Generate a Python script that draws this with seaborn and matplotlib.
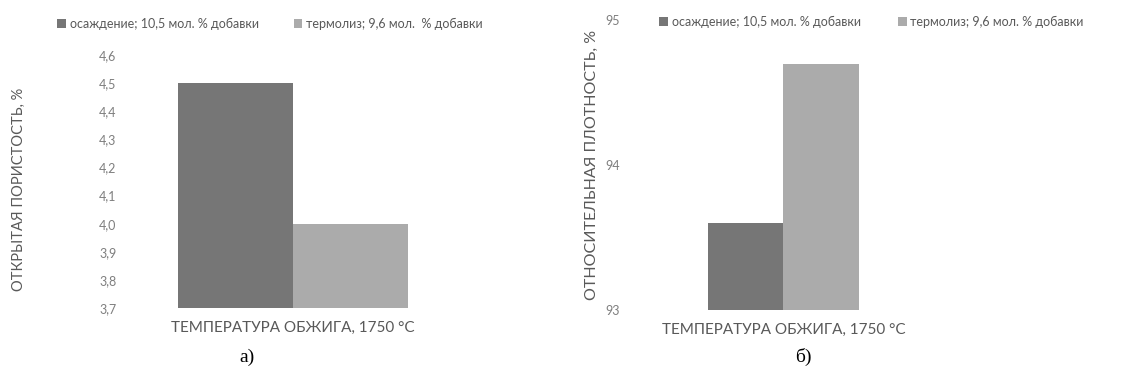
import matplotlib
matplotlib.use("Agg")
import matplotlib.pyplot as plt
import seaborn as sns
import pandas as pd
from matplotlib.ticker import FuncFormatter, MultipleLocator

# data
category = ["ТЕМПЕРАТУРА ОБЖИГА, 1750 °С"]
methods = ["осаждение; 10,5 мол. % добавки", "термолиз; 9,6 мол.  % добавки"]
methods_b = ["осаждение; 10,5 мол. % добавки", "термолиз; 9,6 мол. % добавки"]
porosity = [4.5, 4.0]          # открытая пористость, %
density = [93.6, 94.7]         # относительная плотность, %

colors = ["#767676", "#ababab"]
text_dark = "#595959"
text_tick = "#7f7f7f"

sns.set_theme(style="white")
plt.rcParams["font.family"] = ["Lato", "DejaVu Sans"]

W, H = 1128, 376
fig = plt.figure(figsize=(W / 100, H / 100), dpi=100)
fig.patch.set_facecolor("white")


def px_axes(x0, x1, ytop, ybot):
    return fig.add_axes([x0 / W, 1 - ybot / H, (x1 - x0) / W, (ybot - ytop) / H])


def draw(ax, values, names, ylim, step, fmt, ylabel, ylabel_size, legend_pos, colspace):
    df = pd.DataFrame({"cat": category * len(values), "method": names, "value": values})
    sns.barplot(data=df, x="cat", y="value", hue="method", palette=colors,
                width=0.8, saturation=1, ax=ax, legend=True, linewidth=0)
    ax.set_ylim(*ylim)
    ax.yaxis.set_major_locator(MultipleLocator(step))
    ax.yaxis.set_major_formatter(FuncFormatter(fmt))
    for s in ax.spines.values():
        s.set_visible(False)
    ax.tick_params(axis="y", length=0, pad=6, labelsize=9, labelcolor=text_tick)
    ax.tick_params(axis="x", length=0, pad=9, labelsize=11, labelcolor=text_dark)
    ax.set_xlabel("")
    ax.set_ylabel(ylabel, fontsize=ylabel_size, color=text_dark)
    handles, labels = ax.get_legend_handles_labels()
    ax.get_legend().remove()
    fig.legend(handles, labels, loc="upper left",
               bbox_to_anchor=(legend_pos[0] / W, 1 - legend_pos[1] / H),
               ncol=2, frameon=False, fontsize=9, handlelength=0.7,
               handleheight=0.7, handletextpad=0.3, columnspacing=colspace,
               labelcolor=text_dark, borderaxespad=0)
    ax.set_facecolor("white")


ax1 = px_axes(125, 461, 55, 308)
draw(ax1, porosity, methods, (3.7, 4.6), 0.1,
     lambda v, p: f"{v:.1f}".replace(".", ","),
     "ОТКРЫТАЯ ПОРИСТОСТЬ, %", 10.5, (52, 13), 2.8)
ax1.set_xlim(-0.584, 0.584)
ax1.yaxis.set_label_coords(-0.295, 0.47)

ax2 = px_axes(628, 939, 20, 310)
draw(ax2, density, methods_b, (93, 95), 1,
     lambda v, p: f"{v:.0f}",
     "ОТНОСИТЕЛЬНАЯ ПЛОТНОСТЬ, %", 11.5, (654, 11), 3.0)
ax2.set_xlim(-0.82, 0.82)
ax2.yaxis.set_label_coords(-0.094, 0.5)

# panel captions
fig.text(247 / W, 1 - 357 / H, "а)", fontsize=14, family="Liberation Serif",
         ha="center", va="center", color="black")
fig.text(803 / W, 1 - 357 / H, "б)", fontsize=14, family="Liberation Serif",
         ha="center", va="center", color="black")

fig.savefig("out.png", dpi=100, facecolor="white")
